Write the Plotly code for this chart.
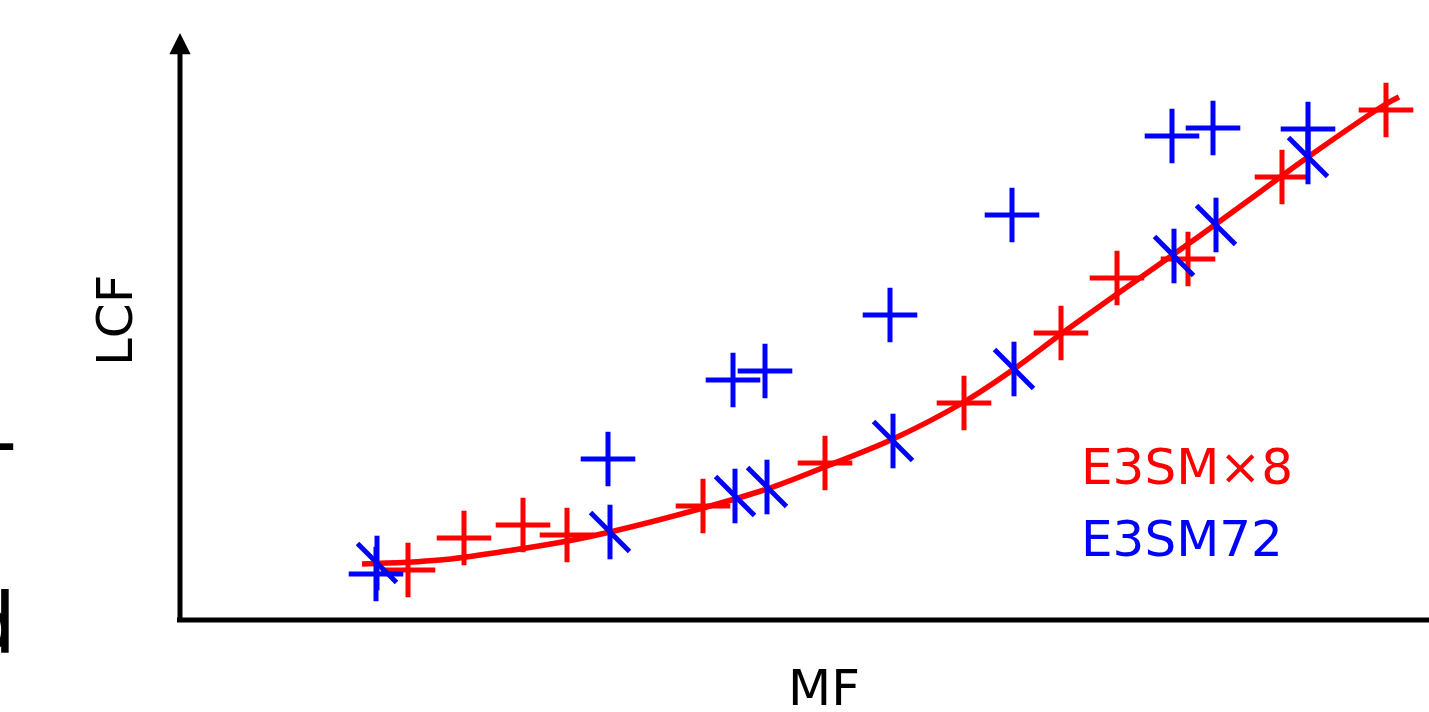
import plotly.graph_objects as go

# ---- data (arbitrary units, no ticks on the original) ----
red_plus_x = [2.28, 2.84, 3.43, 3.87, 5.23, 6.45, 7.84, 8.81, 9.37, 10.08, 11.02, 12.06]
red_plus_y = [0.50, 0.82, 0.95, 0.85, 1.14, 1.57, 2.17, 2.87, 3.42, 3.61, 4.43, 5.10]

blue_plus_x = [1.96, 4.28, 5.53, 5.85, 7.10, 8.32, 9.92, 10.33, 11.28]
blue_plus_y = [0.46, 1.61, 2.40, 2.49, 3.05, 4.05, 4.84, 4.92, 4.91]

blue_x_x = [1.97, 4.30, 5.55, 5.87, 7.13, 8.34, 9.94, 10.36, 11.28]
blue_x_y = [0.57, 0.88, 1.24, 1.33, 1.79, 2.51, 3.64, 3.95, 4.63]

fit_x = [1.82, 2.60, 3.27, 3.93, 4.30, 5.23, 5.87, 6.47, 7.13, 7.84, 8.34, 8.81,
         9.37, 9.94, 10.36, 10.80, 11.28, 12.06, 12.19]
fit_y = [0.56, 0.60, 0.69, 0.80, 0.88, 1.12, 1.31, 1.54, 1.81, 2.18, 2.51, 2.86,
         3.26, 3.66, 3.96, 4.28, 4.63, 5.16, 5.23]

x_label = "MF"
y_label = "LCF"
series_labels = ["E3SM×8", "E3SM72"]

RED = "#ff0000"
BLUE = "#0000ff"
FONT = "DejaVu Sans"

W, H = 1429, 712
ML, MR, MT, MB = 179, 0, 35, 92
PW = W - ML - MR
PH = H - MT - MB


def px2paper_x(px):
    return (px - ML) / PW


def px2paper_y(py):
    return (H - MB - py) / PH


fig = go.Figure()

fig.add_trace(go.Scatter(x=fit_x, y=fit_y, mode="lines",
                         line=dict(color=RED, width=5.5, shape="spline", smoothing=1.0),
                         hoverinfo="skip", showlegend=False))
fig.add_trace(go.Scatter(x=red_plus_x, y=red_plus_y, mode="markers",
                         marker=dict(symbol="cross-thin", size=39,
                                     line=dict(color=RED, width=5)),
                         showlegend=False))
fig.add_trace(go.Scatter(x=blue_plus_x, y=blue_plus_y, mode="markers",
                         marker=dict(symbol="cross-thin", size=39,
                                     line=dict(color=BLUE, width=5)),
                         showlegend=False))
fig.add_trace(go.Scatter(x=blue_x_x, y=blue_x_y, mode="markers",
                         marker=dict(symbol="line-ns", size=39,
                                     line=dict(color=BLUE, width=5)),
                         showlegend=False))
fig.add_trace(go.Scatter(x=blue_x_x, y=blue_x_y, mode="markers",
                         marker=dict(symbol="line-nw", size=39,
                                     line=dict(color=BLUE, width=5)),
                         showlegend=False))

annotations = [
    # y axis with arrow head
    dict(xref="paper", yref="paper", x=px2paper_x(180), y=px2paper_y(33),
         ax=0, ay=589, text="", showarrow=True, arrowhead=2,
         arrowwidth=5, arrowsize=0.85, arrowcolor="black"),
    dict(xref="paper", yref="paper", x=px2paper_x(84), y=px2paper_y(320),
         text=y_label, textangle=-90, showarrow=False,
         font=dict(family=FONT, size=50, color="black")),
    dict(xref="paper", yref="paper", x=px2paper_x(824), y=px2paper_y(719),
         text=x_label, showarrow=False,
         font=dict(family=FONT, size=50, color="black")),
    dict(xref="paper", yref="paper", x=px2paper_x(1079), y=px2paper_y(498),
         text=series_labels[0], showarrow=False, xanchor="left",
         font=dict(family=FONT, size=50, color=RED)),
    dict(xref="paper", yref="paper", x=px2paper_x(1079), y=px2paper_y(570),
         text=series_labels[1], showarrow=False, xanchor="left",
         font=dict(family=FONT, size=50, color=BLUE)),
    # fragments of a neighbouring panel's text, cut by the left edge
    dict(xref="paper", yref="paper", x=px2paper_x(18), y=px2paper_y(675),
         text="d", showarrow=False, xanchor="right",
         font=dict(family=FONT, size=84, color="black")),
    dict(xref="paper", yref="paper", x=px2paper_x(19), y=px2paper_y(492),
         text="-", showarrow=False, xanchor="right",
         font=dict(family=FONT, size=84, color="black")),
]

shapes = [
    dict(type="line", xref="paper", yref="paper", x0=px2paper_x(177), x1=1.0,
         y0=0, y1=0, line=dict(color="black", width=5)),
]

fig.update_layout(
    width=W, height=H,
    margin=dict(l=ML, r=MR, t=MT, b=MB, pad=0),
    paper_bgcolor="white", plot_bgcolor="white",
    xaxis=dict(range=[-0.01, 12.49], visible=False, fixedrange=True),
    yaxis=dict(range=[0, 5.85], visible=False, fixedrange=True),
    annotations=annotations, shapes=shapes,
    showlegend=False,
    hovermode=False,
)

fig.write_html("out.html", config={"displayModeBar": False, "staticPlot": True},
               post_script="document.body.style.margin='0';")
